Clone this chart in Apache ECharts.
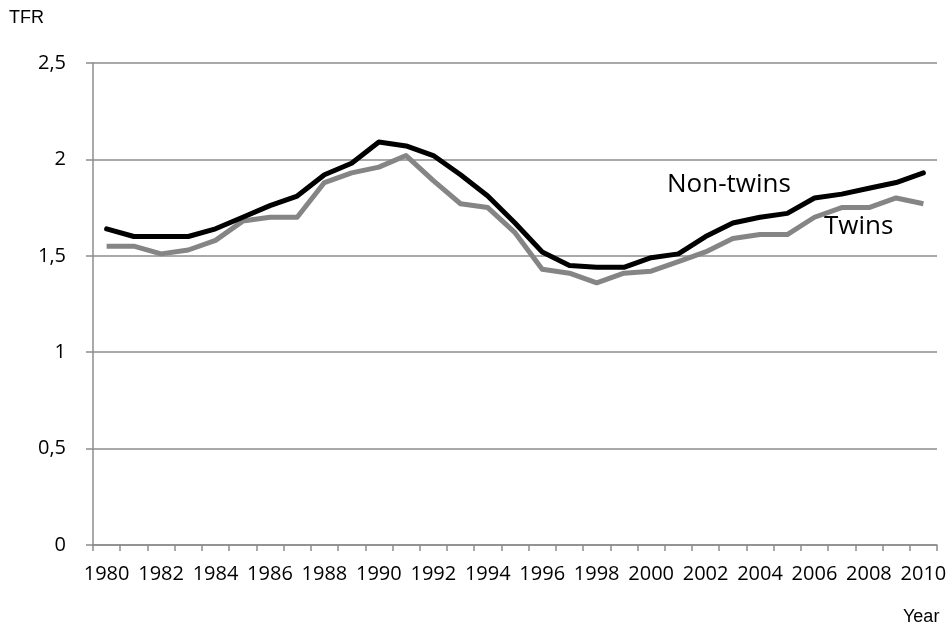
<!DOCTYPE html>
<html>
<head>
<meta charset="utf-8">
<script src="https://cdn.jsdelivr.net/npm/echarts@6/dist/echarts.min.js"></script>
<style>
  html, body { margin: 0; padding: 0; background: #fff; }
  #chart { width: 951px; height: 632px; }
</style>
</head>
<body>
<div id="chart"></div>
<script>
// years on the x axis
const years = []
for (let y = 1980; y <= 2010; y++) years.push(String(y))

// TFR
const nonTwins = [1.64, 1.60, 1.60, 1.60, 1.64, 1.70, 1.76, 1.81, 1.92, 1.98, 2.09, 2.07, 2.02,
  1.92, 1.81, 1.67, 1.52, 1.45, 1.44, 1.44, 1.49, 1.51, 1.60, 1.67, 1.70, 1.72, 1.80, 1.82,
  1.85, 1.88, 1.93]
const twins = [1.55, 1.55, 1.51, 1.53, 1.58, 1.68, 1.70, 1.70, 1.88, 1.93, 1.96, 2.02, 1.89,
  1.77, 1.75, 1.62, 1.43, 1.41, 1.36, 1.41, 1.42, 1.47, 1.52, 1.59, 1.61, 1.61, 1.70, 1.75,
  1.75, 1.80, 1.77]

const yTicks = [0, 0.5, 1, 1.5, 2, 2.5]

const chart = echarts.init(document.getElementById('chart'))

const axisGray = '#8c8c8c'
const labelFont = { fontFamily: 'Open Sans', fontSize: 20, color: '#000' }

chart.setOption({
  animation: false,
  grid: { left: 93, right: 14, top: 63, bottom: 87 },
  xAxis: {
    type: 'category',
    data: years,
    boundaryGap: true,
    axisLine: { lineStyle: { color: axisGray, width: 1.5 } },
    axisTick: { show: true, interval: 0, length: 6, lineStyle: { color: axisGray, width: 1.5 } },
    axisLabel: { ...labelFont, interval: 1, margin: 19 },
    splitLine: { show: false }
  },
  yAxis: {
    type: 'value',
    min: yTicks[0],
    max: yTicks[yTicks.length - 1],
    interval: 0.5,
    axisLine: { show: true, lineStyle: { color: axisGray, width: 1.5 } },
    axisTick: { show: true, inside: false, length: 7, lineStyle: { color: axisGray, width: 1.5 } },
    axisLabel: {
      ...labelFont,
      margin: 27,
      formatter: (v) => String(v).replace('.', ',')
    },
    splitLine: { lineStyle: { color: axisGray, width: 1.5 } }
  },
  series: [
    {
      name: 'Twins',
      type: 'line',
      data: twins,
      symbol: 'none',
      lineStyle: { color: '#858585', width: 5, join: 'round' }
    },
    {
      name: 'Non-twins',
      type: 'line',
      data: nonTwins,
      symbol: 'none',
      lineStyle: { color: '#000', width: 5, join: 'round', cap: 'round' }
    }
  ],
  graphic: [
    { type: 'text', left: 9, top: 9,
      style: { text: 'TFR', fontFamily: 'Liberation Sans', fontSize: 18, fill: '#000' } },
    { type: 'text', left: 903, top: 608,
      style: { text: 'Year', fontFamily: 'Liberation Sans', fontSize: 18, fill: '#000' } },
    { type: 'text', left: 667, top: 172,
      style: { text: 'Non-twins', fontFamily: 'Open Sans', fontSize: 26, fill: '#000' } },
    { type: 'text', left: 824, top: 214,
      style: { text: 'Twins', fontFamily: 'Open Sans', fontSize: 26, fill: '#000' } }
  ]
})
</script>
</body>
</html>
